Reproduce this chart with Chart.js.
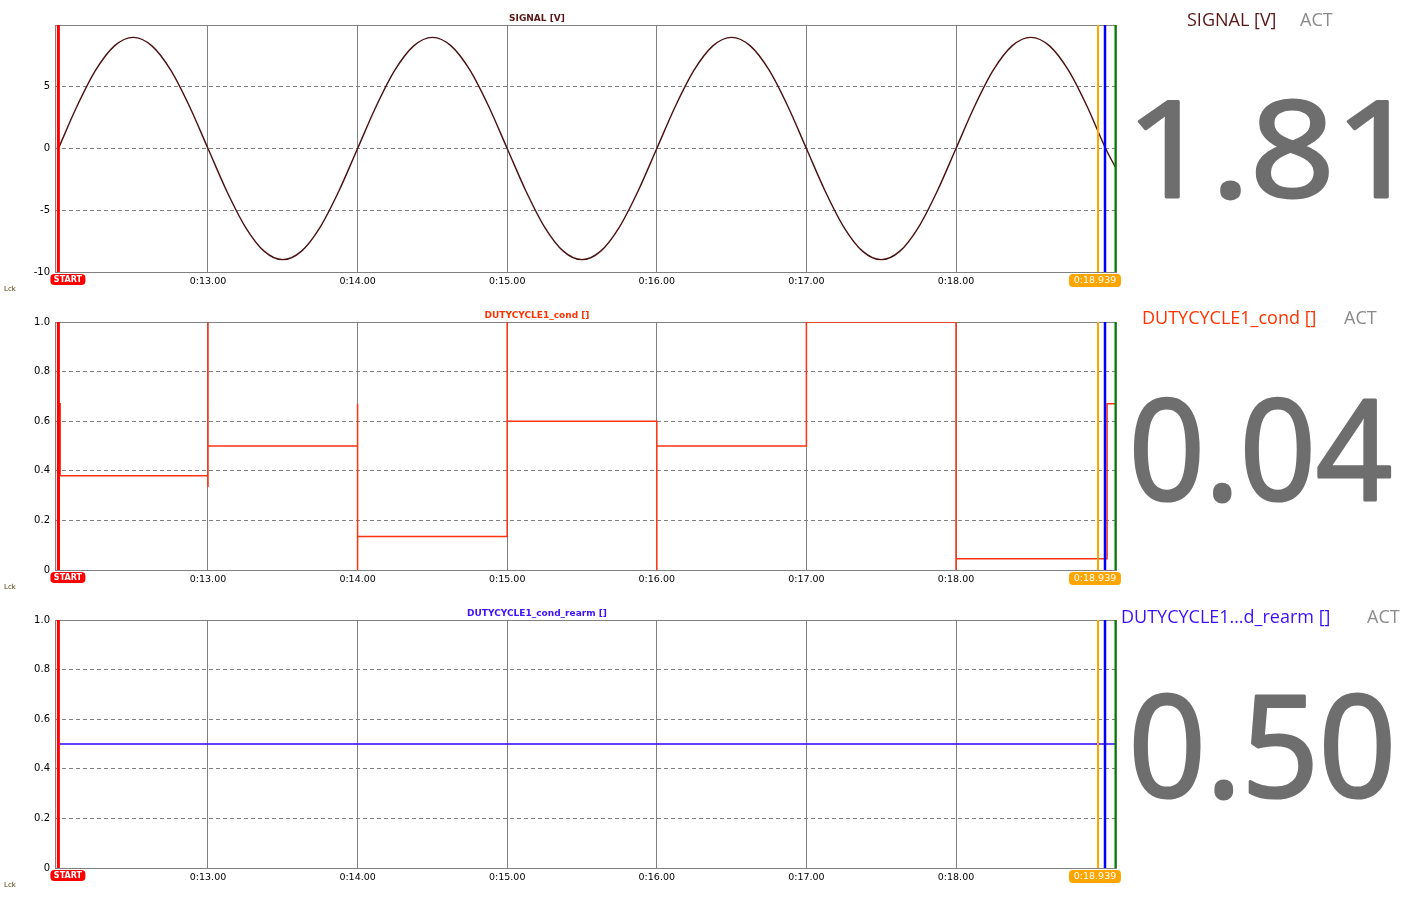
<!DOCTYPE html>
<html>
<head>
<meta charset="utf-8">
<script src="https://cdn.jsdelivr.net/npm/chart.js@4.4.0/dist/chart.umd.min.js"></script>
<style>
  html, body { margin: 0; padding: 0; background: #fff; }
  body { width: 1401px; height: 898px; position: relative; overflow: hidden; }
  canvas { position: absolute; left: 0; }
</style>
</head>
<body>
<canvas id="c1" width="1401" height="297" style="top:0px"></canvas>
<canvas id="c2" width="1401" height="298" style="top:297px"></canvas>
<canvas id="c3" width="1401" height="303" style="top:595px"></canvas>
<script>
// time axis (seconds) and tick labels
const xTicks = [13, 14, 15, 16, 17, 18];
const signalTicks = [-10, -5, 0, 5, 10];
const dutyTicks = [0, 0.2, 0.4, 0.6, 0.8, 1.0];

// SIGNAL [V]
const signalTimes = [
  12, 12.125, 12.25, 12.375, 12.5, 12.625, 12.75, 12.875,
  13, 13.125, 13.25, 13.375, 13.5, 13.625, 13.75, 13.875,
  14, 14.125, 14.25, 14.375, 14.5, 14.625, 14.75, 14.875,
  15, 15.125, 15.25, 15.375, 15.5, 15.625, 15.75, 15.875,
  16, 16.125, 16.25, 16.375, 16.5, 16.625, 16.75, 16.875,
  17, 17.125, 17.25, 17.375, 17.5, 17.625, 17.75, 17.875,
  18, 18.125, 18.25, 18.375, 18.5, 18.625, 18.75, 18.875,
  19, 19.065
];
const signalValues = [
  0, 3.44, 6.36, 8.31, 9.0, 8.31, 6.36, 3.44,
  0, -3.44, -6.36, -8.31, -9.0, -8.31, -6.36, -3.44,
  0, 3.44, 6.36, 8.31, 9.0, 8.31, 6.36, 3.44,
  0, -3.44, -6.36, -8.31, -9.0, -8.31, -6.36, -3.44,
  0, 3.44, 6.36, 8.31, 9.0, 8.31, 6.36, 3.44,
  0, -3.44, -6.36, -8.31, -9.0, -8.31, -6.36, -3.44,
  0, 3.44, 6.36, 8.31, 9.0, 8.31, 6.36, 3.44,
  0, -1.5
];

// DUTYCYCLE1_cond []
const condTimes = [12.005, 12.005, 12.012, 12.012, 13, 13, 13, 13, 14, 14, 14, 14,
  15, 15, 15, 16, 16, 16, 17, 17, 18, 18, 18, 19.01, 19.01, 19.065];
const condValues = [0, 0.67, 0.67, 0.38, 0.38, 0.335, 1.0, 0.5, 0.5, 0.67, 0, 0.135,
  0.135, 1.0, 0.6, 0.6, 0, 0.5, 0.5, 1.0, 1.0, 0, 0.045, 0.045, 0.67, 0.67];

// DUTYCYCLE1_cond_rearm []
const rearmTimes = [12.005, 19.065];
const rearmValues = [0.5, 0.5];

// cursors
const startTime = 12.0;
const cursorOrange = 18.949;
const cursorBlue = 18.996;
const cursorGreen = 19.066;
const cursorLabel = '0:18.939';

// right side readouts
const actValues = ['1.81', '0.04', '0.50'];

Chart.defaults.font.family = 'DejaVu Sans';
Chart.defaults.color = '#000';

const bigFont = '200px "Open Sans"';
const bigStroke = 4.5;

function toPoints(xs, ys) {
  return xs.map((x, i) => ({ x: x, y: ys[i] }));
}

// find the inked box of a string by drawing it off screen
function inkBounds(text) {
  const c = document.createElement('canvas');
  c.width = 700; c.height = 320;
  const g = c.getContext('2d');
  g.font = bigFont;
  g.textBaseline = 'alphabetic';
  g.textAlign = 'left';
  g.fillStyle = '#000';
  g.strokeStyle = '#000';
  g.lineWidth = bigStroke;
  g.lineJoin = 'round';
  g.fillText(text, 50, 240);
  g.strokeText(text, 50, 240);
  const d = g.getImageData(0, 0, c.width, c.height).data;
  let x0 = c.width, x1 = 0, y0 = c.height, y1 = 0;
  for (let y = 0; y < c.height; y++) {
    for (let x = 0; x < c.width; x++) {
      if (d[(y * c.width + x) * 4 + 3] > 127) {
        if (x < x0) x0 = x;
        if (x > x1) x1 = x;
        if (y < y0) y0 = y;
        if (y > y1) y1 = y;
      }
    }
  }
  return { left: x0 - 50, right: x1 + 1 - 50, top: y0 - 240, bottom: y1 + 1 - 240 };
}

function fitText(ctx, text, box, color) {
  const b = inkBounds(text);
  ctx.save();
  ctx.font = bigFont;
  ctx.textBaseline = 'alphabetic';
  ctx.textAlign = 'left';
  ctx.translate(box[0], box[1]);
  ctx.scale((box[2] - box[0]) / (b.right - b.left), (box[3] - box[1]) / (b.bottom - b.top));
  ctx.fillStyle = color;
  ctx.strokeStyle = color;
  ctx.lineWidth = bigStroke;
  ctx.lineJoin = 'round';
  ctx.fillText(text, -b.left, -b.top);
  ctx.strokeText(text, -b.left, -b.top);
  ctx.restore();
}

function badge(ctx, x, y, w, h, color, text, font) {
  ctx.save();
  ctx.fillStyle = color;
  ctx.beginPath();
  ctx.roundRect(x, y, w, h, 4);
  ctx.fill();
  ctx.fillStyle = '#fff';
  ctx.font = font;
  ctx.textAlign = 'center';
  ctx.textBaseline = 'middle';
  ctx.fillText(text, x + w / 2, y + h / 2 + 0.5);
  ctx.restore();
}

const panelPlugin = {
  id: 'panel',
  beforeDatasetsDraw(chart) {
    const a = chart.chartArea, ctx = chart.ctx;
    ctx.save();
    ctx.strokeStyle = '#808080';
    ctx.lineWidth = 1;
    ctx.strokeRect(Math.round(a.left) + 0.5, Math.round(a.top) + 0.5,
      Math.round(a.right - a.left), Math.round(a.bottom - a.top));
    ctx.restore();
  },
  afterDatasetsDraw(chart) {
    const a = chart.chartArea, ctx = chart.ctx, xs = chart.scales.x;
    const lines = [[startTime, '#ff0000', 3], [cursorOrange, '#ffa500', 2],
      [cursorBlue, '#0000ff', 2.5], [cursorGreen, '#008000', 2]];
    ctx.save();
    lines.forEach(l => {
      const px = xs.getPixelForValue(l[0]);
      ctx.strokeStyle = l[1];
      ctx.lineWidth = l[2];
      ctx.beginPath();
      ctx.moveTo(px, a.top);
      ctx.lineTo(px, a.bottom);
      ctx.stroke();
    });
    ctx.restore();
  },
  afterDraw(chart) {
    const a = chart.chartArea, ctx = chart.ctx, xs = chart.scales.x;
    const p = chart.options.plugins.panel;
    ctx.save();
    // small title above plot
    ctx.font = 'bold 9px "DejaVu Sans"';
    ctx.fillStyle = p.color;
    ctx.textAlign = 'center';
    ctx.textBaseline = 'alphabetic';
    ctx.fillText(p.title, 537, a.top - 4);
    // Lck
    ctx.font = '7px "DejaVu Sans"';
    ctx.fillStyle = '#4a3600';
    ctx.textAlign = 'left';
    ctx.fillText('Lck', 4, a.bottom + 19);
    // right side label
    ctx.font = '18px "Open Sans"';
    ctx.fillStyle = p.color;
    ctx.fillText(p.label, p.labelX, p.labelY);
    ctx.fillStyle = '#8a8a8a';
    ctx.fillText('ACT', p.actX, p.labelY);
    ctx.restore();
    fitText(ctx, p.value, p.box, '#6e6e6e');
    const sx = xs.getPixelForValue(startTime);
    badge(ctx, sx - 8, a.bottom + 2, 35, 11, '#ff0000', 'START', 'bold 8px "DejaVu Sans"');
    const ox = xs.getPixelForValue(cursorOrange);
    badge(ctx, ox - 29, a.bottom + 2, 52, 13, '#ffa500', cursorLabel, '9.5px "DejaVu Sans"');
  }
};

function makePanel(id, datasets, yTicks, yMin, yMax, yFmt, xHeight, panel) {
  return new Chart(document.getElementById(id), {
    type: 'line',
    data: { datasets: datasets },
    options: {
      responsive: false,
      animation: false,
      events: [],
      layout: { padding: { left: 0, right: 285, top: 25, bottom: 0 } },
      plugins: { legend: { display: false }, tooltip: { enabled: false }, panel: panel },
      elements: { point: { radius: 0 } },
      scales: {
        x: {
          type: 'linear',
          min: 11.9773,
          max: 19.0695,
          afterBuildTicks: s => { s.ticks = xTicks.map(v => ({ value: v })); },
          afterFit: s => { s.height = xHeight; },
          grid: { color: '#808080', drawTicks: false },
          border: { display: false },
          ticks: { padding: 4, font: { size: 9.5 }, color: '#000', maxRotation: 0,
            callback: v => '0:' + v.toFixed(2) }
        },
        y: {
          min: yMin,
          max: yMax,
          afterBuildTicks: s => { s.ticks = yTicks.map(v => ({ value: v })); },
          afterFit: s => { s.width = 55; },
          grid: { color: '#808080', drawTicks: false },
          border: { display: false, dash: [4, 3] },
          ticks: { padding: 5, font: { size: 10 }, color: '#000', callback: yFmt }
        }
      }
    },
    plugins: [panelPlugin]
  });
}

makePanel('c1', [{
  data: toPoints(signalTimes, signalValues),
  borderColor: '#4a0f0f',
  borderWidth: 1.4,
  cubicInterpolationMode: 'monotone'
}], signalTicks, -10, 10, v => (v === 10 ? '' : String(v)), 25, {
  title: 'SIGNAL [V]', color: '#5a1616', label: 'SIGNAL [V]', labelX: 1187, labelY: 26,
  actX: 1300, value: actValues[0], box: [1138, 99, 1389, 200]
});

makePanel('c2', [{
  data: toPoints(condTimes, condValues),
  borderColor: '#ff3311',
  borderWidth: 1.5
}], dutyTicks, 0, 1, v => (v === 0 ? '0' : v.toFixed(1)), 25, {
  title: 'DUTYCYCLE1_cond []', color: '#ff3300', label: 'DUTYCYCLE1_cond []', labelX: 1142, labelY: 27,
  actX: 1344, value: actValues[1], box: [1134, 100, 1391, 206]
});

makePanel('c3', [{
  data: toPoints(rearmTimes, rearmValues),
  borderColor: '#3300ff',
  borderWidth: 1.3
}], dutyTicks, 0, 1, v => (v === 0 ? '0' : v.toFixed(1)), 30, {
  title: 'DUTYCYCLE1_cond_rearm []', color: '#3c10ff', label: 'DUTYCYCLE1\u2026d_rearm []', labelX: 1121, labelY: 28,
  actX: 1367, value: actValues[2], box: [1134, 99, 1391, 206]
});
</script>
</body>
</html>
